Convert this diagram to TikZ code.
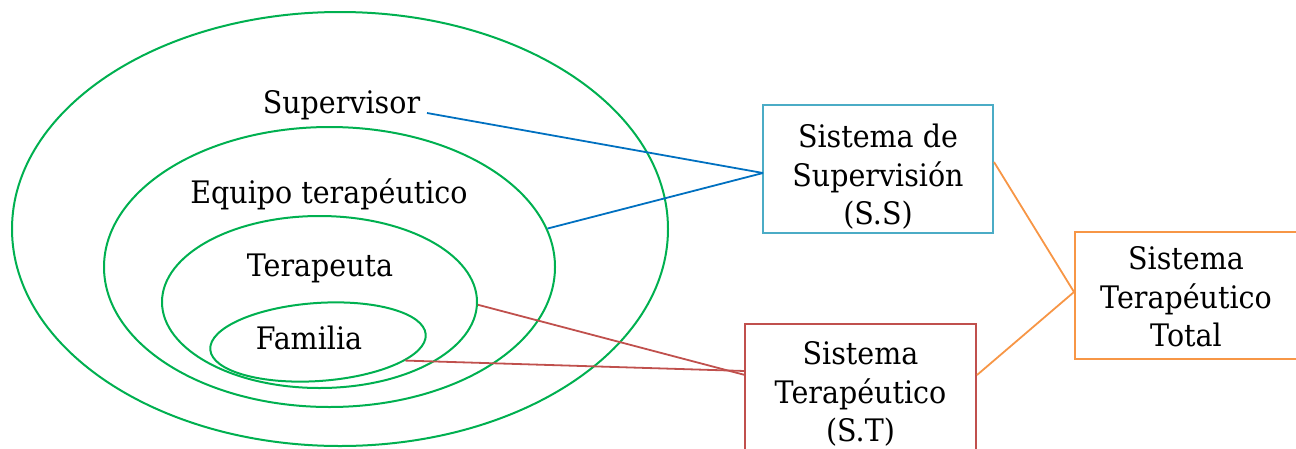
\documentclass[tikz,border=0pt]{standalone}
\usepackage{fontspec}
\setmainfont{DejaVu Serif}[FakeStretch=0.92]
\usetikzlibrary{shapes.geometric}
\definecolor{cgreen}{HTML}{00B050}
\definecolor{cblue}{HTML}{0070C0}
\definecolor{cteal}{HTML}{4BACC6}
\definecolor{cred}{HTML}{C0504D}
\definecolor{corange}{HTML}{F79646}
\tikzset{
  ring/.style={draw=cgreen, line width=2pt, ellipse, inner sep=0pt},
  lbl/.style={font=\fontsize{31}{38.5}\selectfont, inner sep=0pt, anchor=base},
  boxtext/.style={font=\fontsize{31}{38.5}\selectfont, align=center, inner sep=0pt},
  sysbox/.style={draw, line width=2pt, rectangle, inner sep=0pt},
  link/.style={line width=1.8pt},
}
\begin{document}
\begin{tikzpicture}[x=1pt,y=-1pt]
\useasboundingbox (0,0) rectangle (1296,448);
% ellipses
\node[ring, minimum width=656pt, minimum height=434pt] (R1) at (340,229) {};
\node[ring, minimum width=451pt, minimum height=280pt] (R2) at (329.5,267) {};
\node[ring, minimum width=315pt, minimum height=172pt] (R3) at (319.5,302) {};
\node[ring, minimum width=216pt, minimum height=78pt, rotate=4] (R4) at (318,342) {};
% labels
\node[lbl] (sup) at (341.5,113) {Supervisor};
\node[lbl] (equ) at (329,203) {Equipo terapéutico};
\node[lbl] (ter) at (320,276) {Terapeuta};
\node[lbl] (fam) at (309,349) {Familia};
% boxes
\node[sysbox, draw=cteal, minimum width=230pt, minimum height=128pt] (SS) at (878,169) {};
\node[sysbox, draw=cred, minimum width=231pt, minimum height=146pt] (ST) at (860.5,397) {};
\node[sysbox, draw=corange, minimum width=222pt, minimum height=127pt] (TT) at (1186,295.5) {};
\begin{scope}
\clip (763,105) rectangle (993,232);
\node[boxtext] (SStext) at (878,177) {Sistema de\\Supervisión\\(S.S)};
\end{scope}
\begin{scope}
\clip (745,324) rectangle (976,448);
\node[boxtext] (STtext) at (860.5,394) {Sistema\\Terapéutico\\(S.T)};
\end{scope}
\node[boxtext] (TTtext) at (1186,297) {Sistema\\Terapéutico\\Total};
% connector points
\coordinate (supend) at (427,113);
\coordinate (SSin) at (763,173);
\coordinate (STin1) at (745,375);
\coordinate (STin2) at (745,371);
% connectors
\draw[link, cblue] (supend) -- (SSin);
\draw[link, cblue] (R2.10) -- (SSin);
\draw[link, cred] (R3.-1) -- (STin1);
\draw[link, cred] (R4.-16) -- (STin2);
\draw[link, corange] (SS.east |- 0,162) -- (TT.west |- 0,292);
\draw[link, corange] (ST.east |- 0,375) -- (TT.west |- 0,292);
\end{tikzpicture}
\end{document}
